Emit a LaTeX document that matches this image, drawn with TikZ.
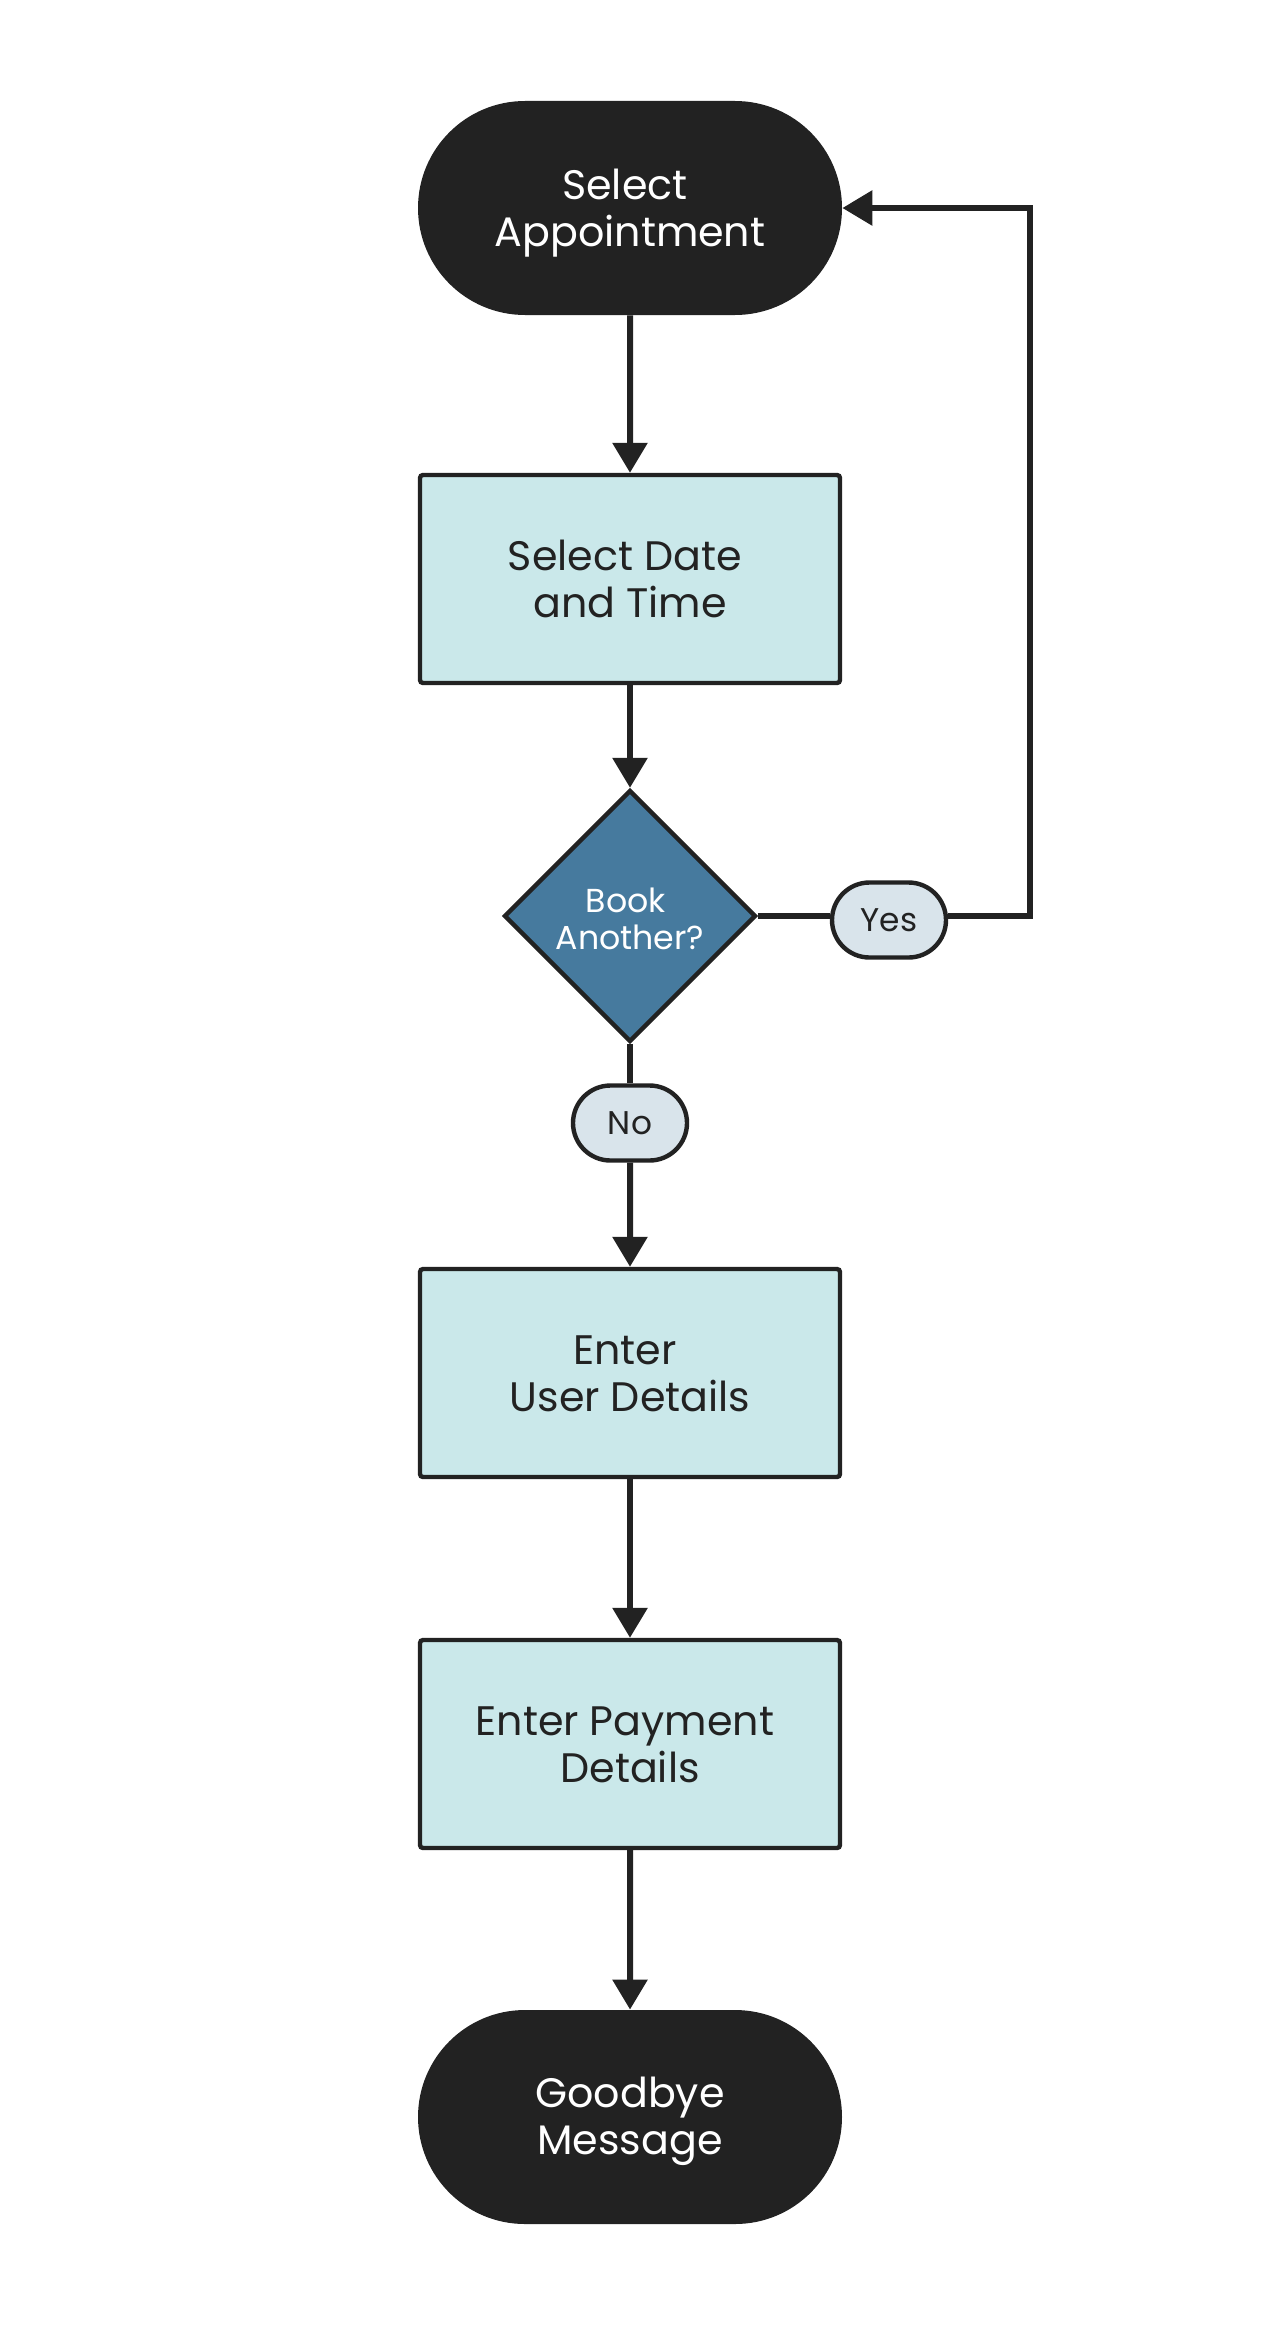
\documentclass[tikz,border=0pt]{standalone}
\usepackage{fontspec}
\setmainfont{Poppins}
\usetikzlibrary{shapes.geometric,shapes.misc,arrows.meta}
\definecolor{ink}{HTML}{222222}
\definecolor{procfill}{HTML}{CAE8EA}
\definecolor{decfill}{HTML}{467A9E}
\definecolor{labfill}{HTML}{D9E4EB}
% two-line text with fixed line box (first-line height, last-line depth)
\newcommand\twol[2]{\rule{0pt}{20pt}#1\\#2\rule[-4.9pt]{0pt}{4.9pt}}
\newcommand\twos[2]{\rule{0pt}{16pt}#1\\#2\rule[-0.7pt]{0pt}{0.7pt}}
\begin{document}
\begin{tikzpicture}[x=0.5pt,y=-0.5pt,
  term/.style={rounded rectangle, fill=ink, text=white, minimum width=212pt,
    minimum height=107pt, inner sep=0pt, align=center,
    font=\fontsize{20.6}{23.5}\selectfont},
  proc/.style={rectangle, rounded corners=1.5pt, draw=ink, line width=2.2pt,
    fill=procfill, text=ink, minimum width=210pt, minimum height=104pt,
    inner sep=0pt, align=center, font=\fontsize{20.6}{23.5}\selectfont},
  dec/.style={diamond, aspect=1, draw=ink, line width=2.2pt, fill=decfill,
    text=white, minimum width=126pt, minimum height=126pt, inner sep=0pt,
    align=center, font=\fontsize{16.6}{18.5}\selectfont},
  lab/.style={rounded rectangle, draw=ink, line width=2.2pt, fill=labfill,
    text=ink, minimum width=57pt, minimum height=37.5pt, inner sep=0pt,
    font=\fontsize{16.4}{18}\selectfont},
  conn/.style={draw=ink, line width=3pt},
  arr/.style={conn, -{Triangle[length=15pt,width=17pt]}}
]
\path[use as bounding box, fill=white] (0,0) rectangle (1260,2328);

\node[term] (top) at (630,208) {\twol{Select\hspace*{0.25em}}{Appointment}};
\node[proc] (r1) at (630,579) {\twol{Select Date\hspace*{0.25em}}{and Time}};
\node[dec] (dia) at (630,916) {\twos{Book\hspace*{0.25em}}{Another?}};
\node[lab] (yes) at (889,920) {Yes};
\node[lab] (no) at (630,1123) {No};
\node[proc] (r2) at (630,1373) {\twol{Enter\hspace*{0.25em}}{User Details}};
\node[proc] (r3) at (630,1744) {\twol{Enter Payment\hspace*{0.25em}}{Details}};
\node[term] (bye) at (630,2117) {\twol{Goodbye}{Message}};
\coordinate (lp) at (1030,208);

\draw[arr] (top) -- (r1);
\draw[arr] (r1) -- (dia);
\draw[conn] (dia.east) -- (dia.east -| yes.west);
\draw[arr] (dia.east -| yes.east) -| (lp) -- (top.east);
\draw[conn] (dia.south) -- (no.north);
\draw[arr] (no) -- (r2);
\draw[arr] (r2) -- (r3);
\draw[arr] (r3) -- (bye);
\end{tikzpicture}
\end{document}
